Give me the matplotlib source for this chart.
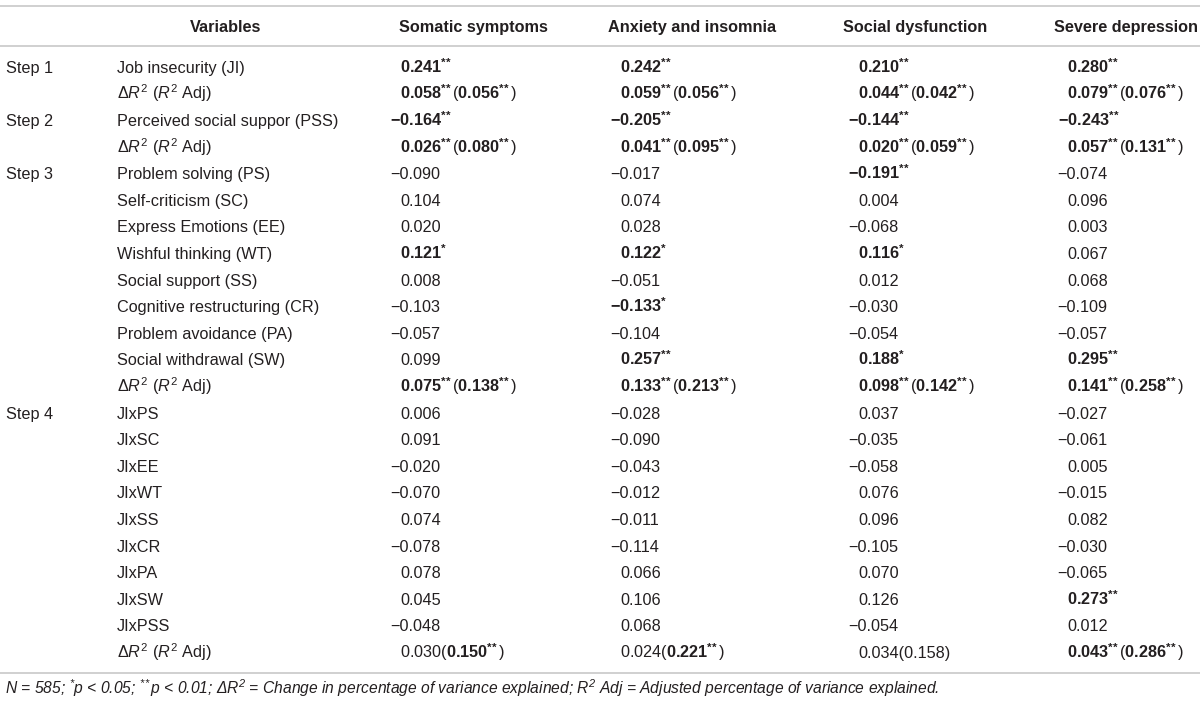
import re
import matplotlib
matplotlib.use("Agg")
import matplotlib.pyplot as plt
from matplotlib import font_manager

# Table content
headers = ["Variables", "Somatic symptoms", "Anxiety and insomnia",
           "Social dysfunction", "Severe depression"]

DR = r"Δ$\mathit{R}^2$ ($\mathit{R}^2$ Adj)"

steps = ["Step 1", "", "Step 2", "", "Step 3", "", "", "", "", "", "", "", "",
         "Step 4", "", "", "", "", "", "", "", "", ""]

variables = ["Job insecurity (JI)", DR, "Perceived social suppor (PSS)", DR,
             "Problem solving (PS)", "Self-criticism (SC)", "Express Emotions (EE)",
             "Wishful thinking (WT)", "Social support (SS)",
             "Cognitive restructuring (CR)", "Problem avoidance (PA)",
             "Social withdrawal (SW)", DR,
             "JIxPS", "JIxSC", "JIxEE", "JIxWT", "JIxSS", "JIxCR", "JIxPA",
             "JIxSW", "JIxPSS", DR]

# [..] marks bold
somatic = ["[0.241**]", "[0.058**]([0.056**])", "[-0.164**]", "[0.026**]([0.080**])",
           "-0.090", "0.104", "0.020", "[0.121*]", "0.008", "-0.103", "-0.057", "0.099",
           "[0.075**]([0.138**])",
           "0.006", "0.091", "-0.020", "-0.070", "0.074", "-0.078", "0.078", "0.045",
           "-0.048", "0.030([0.150**])"]

anxiety = ["[0.242**]", "[0.059**]([0.056**])", "[-0.205**]", "[0.041**]([0.095**])",
           "-0.017", "0.074", "0.028", "[0.122*]", "-0.051", "[-0.133*]", "-0.104",
           "[0.257**]", "[0.133**]([0.213**])",
           "-0.028", "-0.090", "-0.043", "-0.012", "-0.011", "-0.114", "0.066", "0.106",
           "0.068", "0.024([0.221**])"]

social = ["[0.210**]", "[0.044**]([0.042**])", "[-0.144**]", "[0.020**]([0.059**])",
          "[-0.191**]", "0.004", "-0.068", "[0.116*]", "0.012", "-0.030", "-0.054",
          "[0.188*]", "[0.098**]([0.142**])",
          "0.037", "-0.035", "-0.058", "0.076", "0.096", "-0.105", "0.070", "0.126",
          "-0.054", "0.034(0.158)"]

severe = ["[0.280**]", "[0.079**]([0.076**])", "[-0.243**]", "[0.057**]([0.131**])",
          "-0.074", "0.096", "0.003", "0.067", "0.068", "-0.109", "-0.057",
          "[0.295**]", "[0.141**]([0.258**])",
          "-0.027", "-0.061", "0.005", "-0.015", "0.082", "-0.030", "-0.065",
          "[0.273**]", "0.012", "[0.043**]([0.286**])"]

columns = [somatic, anxiety, social, severe]

footnote = (r"N = 585; $^{*}$p < 0.05; $^{*\!*}$p < 0.01; Δ$R^2$ = Change in percentage "
            r"of variance explained; $R^2$ Adj = Adjusted percentage of variance explained.")

# fonts
plt.rcParams["font.family"] = ["Liberation Sans", "DejaVu Sans"]
plt.rcParams["mathtext.fontset"] = "custom"
plt.rcParams["mathtext.rm"] = "Liberation Sans"
plt.rcParams["mathtext.it"] = "Liberation Sans:italic"
plt.rcParams["mathtext.bf"] = "Liberation Sans:bold"
plt.rcParams["mathtext.default"] = "regular"

names = {f.name for f in font_manager.fontManager.ttflist}
narrow = "Liberation Sans Narrow" if "Liberation Sans Narrow" in names else "Liberation Sans"

FS = 11.7
ink = "#231f20"
rule = "#c8c8c8"

x_step, x_var = 6, 117
x_head = [226, 473, 692, 915, 1126]
x_vals = [400, 620, 858, 1067]
y_head = 26
y_first, dy = 67, 26.6
base_off = 5.8


def cell_markup(s):
    out = []
    for bold_part, plain_part in re.findall(r"\[([^\]]*)\]|([^\[]+)", s):
        bold = bool(bold_part)
        seg = bold_part if bold else plain_part
        for num, stars, other in re.findall(r"(-?[\d.]+)(\**)|([^\d.\-*]+)", seg):
            if other:
                out.append(other)
                continue
            sup = "^{" + r"\!".join(stars) + "}" if stars else ""
            if bold:
                out.append(r"$\mathbf{" + num + sup + "}$")
            else:
                out.append(num.replace("-", "\u2212"))
                if stars:
                    out.append("$" + sup + "$")
    return "".join(out)


fig = plt.figure(figsize=(12, 7.08), dpi=100)
ax = fig.add_axes([0, 0, 1, 1])
ax.set_xlim(0, 1200)
ax.set_ylim(708, 0)
ax.axis("off")

renderer = fig.canvas.get_renderer()
probe = ax.text(0, 0, "\u2212", fontsize=FS)
minus_w = probe.get_window_extent(renderer).width
probe.remove()

for y in (6, 46, 673):
    ax.axhline(y, color=rule, lw=1.2)

for i, h in enumerate(headers):
    ax.text(x_head[i], y_head + base_off, h, fontsize=FS, fontweight="bold",
            color=ink, ha="center", va="baseline")

for r in range(len(variables)):
    yb = y_first + r * dy + base_off
    if steps[r]:
        ax.text(x_step, yb, steps[r], fontsize=FS, color=ink, va="baseline")
    ax.text(x_var, yb, variables[r], fontsize=FS, color=ink, va="baseline")
    for c, col in enumerate(columns):
        s = col[r]
        x = x_vals[c] - (minus_w if s.lstrip("[").startswith("-") else 0)
        ax.text(x, yb, cell_markup(s), fontsize=FS, color=ink, va="baseline")

fn = ax.text(5, 688 + base_off, footnote, fontsize=FS, fontstyle="italic",
             family=[narrow, "DejaVu Sans"], color=ink, va="baseline")
w = fn.get_window_extent(renderer).width
fn.set_fontsize(FS * 935 / w)

fig.savefig("out.png", dpi=100)
